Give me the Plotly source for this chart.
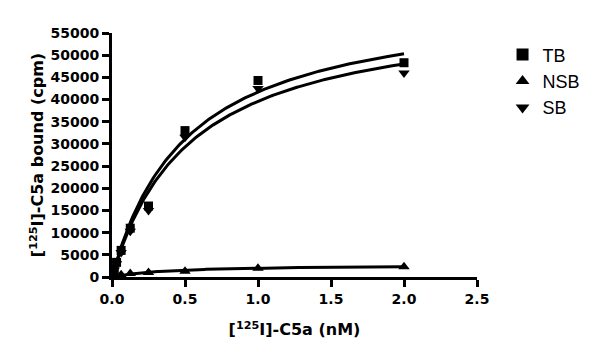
import plotly.graph_objects as go
import numpy as np

conc = [0.0156, 0.03125, 0.0625, 0.125, 0.25, 0.5, 1.0, 2.0]
tb = [1800, 3300, 6000, 11000, 16000, 33000, 44300, 48300]
nsb = [150, 300, 500, 800, 1000, 1300, 2000, 2300]
sb = [1600, 3000, 5500, 10300, 15000, 31500, 42500, 46000]

# one-site fit parameters
tb_fit = dict(bmax=63400, kd=0.52)
sb_fit = dict(bmax=61000, kd=0.54)
nsb_fit = dict(bmax=2800, kd=0.40)

xs = np.linspace(0, 2.0, 200)

def hyper(p):
    return p["bmax"] * xs / (p["kd"] + xs)

fig = go.Figure()
lw = 3
for p in (tb_fit, sb_fit, nsb_fit):
    fig.add_trace(go.Scatter(x=xs, y=hyper(p), mode="lines",
                             line=dict(color="black", width=lw),
                             showlegend=False, hoverinfo="skip"))

fig.add_trace(go.Scatter(x=conc, y=sb, mode="markers", name="SB",
                         marker=dict(symbol="triangle-down", size=10, color="black"),
                         legendrank=3, legendgroup="c"))
fig.add_trace(go.Scatter(x=conc, y=nsb, mode="markers", name="NSB",
                         marker=dict(symbol="triangle-up", size=10, color="black"),
                         legendrank=2, legendgroup="b"))
fig.add_trace(go.Scatter(x=conc, y=tb, mode="markers", name="TB",
                         marker=dict(symbol="square", size=9, color="black"),
                         legendrank=1, legendgroup="a"))

tickfont = dict(family="DejaVu Sans", size=14, color="black", weight="bold")
titlefont = dict(family="DejaVu Sans", size=16, color="black", weight="bold")

fig.update_layout(
    width=600, height=361,
    margin=dict(l=112, r=123, t=33, b=84),
    plot_bgcolor="white", paper_bgcolor="white",
    showlegend=True,
    legend=dict(x=1.07, y=0.986, xanchor="left", yanchor="top",
                font=dict(family="Liberation Sans", size=18, color="black"),
                traceorder="grouped", tracegroupgap=0,
                bgcolor="rgba(0,0,0,0)", itemsizing="constant"),
    xaxis=dict(range=[0, 2.5], tickvals=[0, 0.5, 1.0, 1.5, 2.0, 2.5],
               ticktext=["0.0", "0.5", "1.0", "1.5", "2.0", "2.5"],
               showline=True, linecolor="black", linewidth=3,
               ticks="outside", ticklen=7, tickwidth=3, tickcolor="black",
               showgrid=False, zeroline=False, tickfont=tickfont,
               title=dict(text="[<sup>125</sup>I]-C5a (nM)", font=titlefont, standoff=19)),
    yaxis=dict(range=[0, 55000], dtick=5000, tickformat="d",
               showline=True, linecolor="black", linewidth=3,
               ticks="outside", ticklen=7, tickwidth=3, tickcolor="black",
               showgrid=False, zeroline=False, tickfont=tickfont,
               title=dict(text="[<sup>125</sup>I]-C5a bound (cpm)", font=titlefont, standoff=3)),
)

fig.write_html("out.html")
